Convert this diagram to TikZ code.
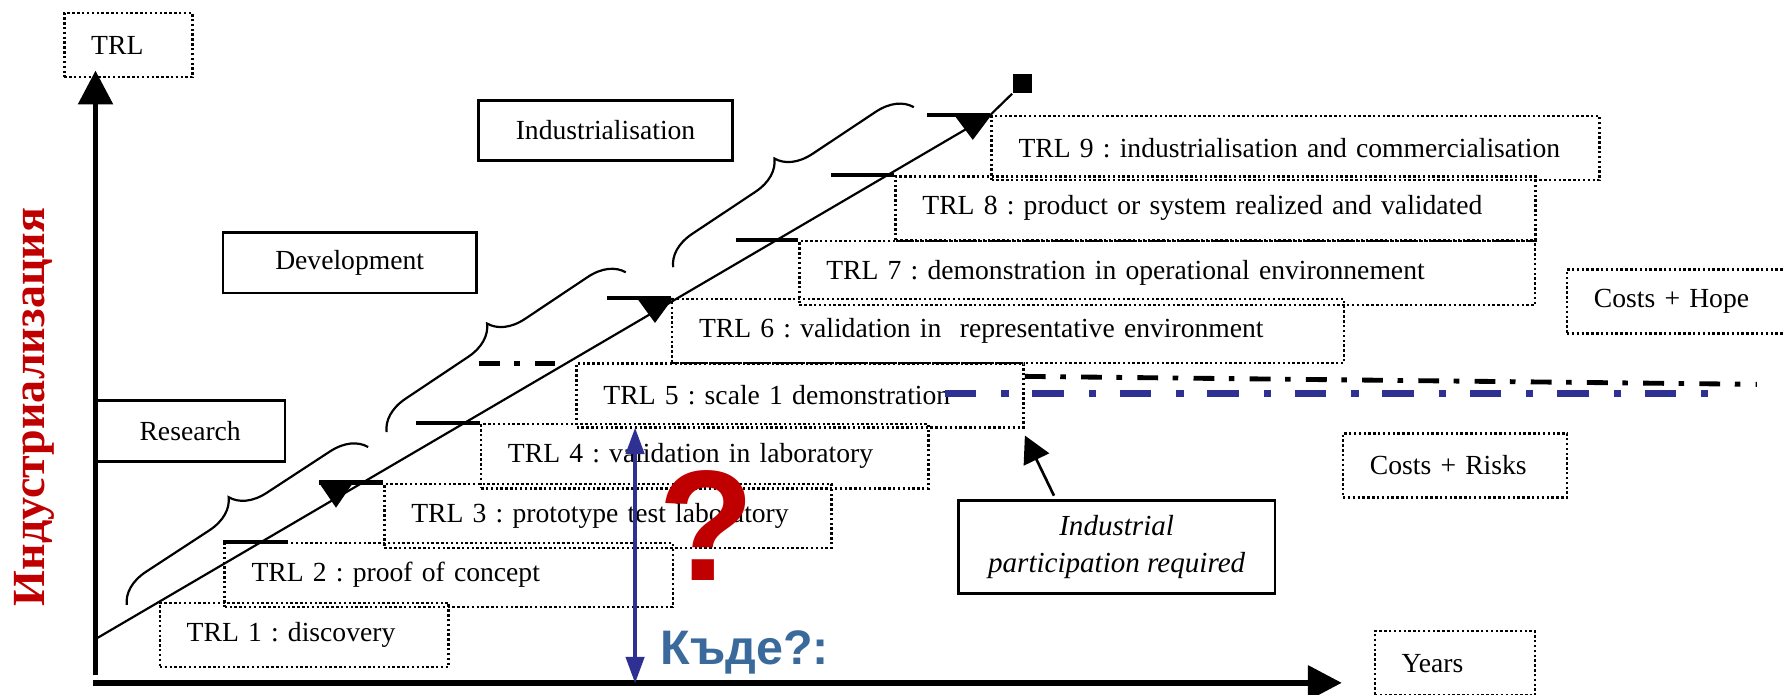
\documentclass[tikz,border=0pt]{standalone}
\usepackage{fontspec}
\setmainfont{Liberation Serif}
\newfontfamily\arialfont{Liberation Sans}
\usetikzlibrary{arrows.meta,calc,decorations.pathreplacing}
\frenchspacing

\definecolor{trlred}{RGB}{192,0,0}
\definecolor{trlnavy}{RGB}{46,49,146}
\definecolor{trlsteel}{RGB}{58,106,156}

\tikzstyle{stagebox} = [draw, line width=1pt, dash pattern=on 1pt off 1pt,
    anchor=north west, inner xsep=0.39cm, inner ysep=0pt, minimum height=0.93cm, align=left]
\tikzstyle{phasebox} = [draw, line width=1pt, inner sep=0pt, minimum height=0.88cm]
\tikzstyle{stepbar} = [line width=1.9pt]
\tikzstyle{axisline} = [line width=2.4pt, -{Triangle[length=14pt,width=14pt]}]
\tikzstyle{curly} = [line width=0.9pt, decorate, decoration={brace, amplitude=0.5cm}]
\tikzstyle{hopeline} = [line width=2pt, dash pattern=on 8.6pt off 6pt on 2.3pt off 6.3pt]
\tikzstyle{riskline} = [trlnavy, line width=3pt, dash pattern=on 13pt off 10.3pt on 3pt off 9.8pt]
\tikzstyle{pointer} = [line width=1.1pt, -{Triangle[length=11pt,width=11.5pt]}]
\tikzstyle{dualarrow} = [trlnavy, line width=1.7pt, {Triangle[length=11pt,width=7.5pt]}-{Triangle[length=11pt,width=7.5pt]}]

\begin{document}
\begin{tikzpicture}[x=0.0165cm, y=-0.0165cm, font=\fontsize{11.4}{14}\selectfont]
    \useasboundingbox (0,0) rectangle (1568,611);
    % Place nodes
    \node [stagebox, text width=1.080cm] (trl) at (55.5,10.5) {TRL};
    \node [stagebox, text width=3.410cm] (trl1) at (139.5,529) {TRL 1 : discovery};
    \node [stagebox, text width=5.720cm] (trl2) at (196.5,476.5) {TRL 2 : proof of concept};
    \node [stagebox, text width=5.705cm] (trl3) at (337,424.5) {TRL 3 : prototype test laboratory};
    \node [stagebox, text width=5.713cm] (trl4) at (422,372) {TRL 4 : validation in laboratory};
    \node [stagebox, text width=5.705cm] (trl5) at (506,318.5) {TRL 5 : scale 1 demonstration};
    \node [stagebox, text width=8.963cm] (trl6) at (590,262) {TRL 6 : validation in~ representative environment};
    \node [stagebox, text width=9.887cm] (trl7) at (702,211) {TRL 7 : demonstration in operational environnement};
    \node [stagebox, text width=8.501cm] (trl8) at (786.5,154) {TRL 8 : product or system realized and validated};
    \node [stagebox, text width=8.040cm] (trl9) at (871,101) {TRL 9 : industrialisation and commercialisation};
    \node [stagebox, text width=2.850cm] (hope) at (1377,236) {Costs + Hope};
    \node [stagebox, text width=2.471cm] (risk) at (1180,380) {Costs + Risks};
    \node [stagebox, text width=1.546cm] (years) at (1208,554) {Years};
    \node [phasebox, minimum width=3.68cm, minimum height=0.866cm] (indus) at (532.5,114.75) {Industrialisation};
    \node [phasebox, minimum width=3.68cm] (devel) at (307.5,231) {Development};
    \node [phasebox, minimum width=2.747cm] (resea) at (167.25,379) {Research};
    \node [phasebox, minimum width=4.587cm, minimum height=1.353cm, align=center,
        font=\fontsize{12}{15}\selectfont\itshape] (partic) at (982,481) {Industrial\\participation required};
    \node [fill, minimum size=0.28cm, inner sep=0pt] (peak) at (899,73.5) {};
    % Axes
    \coordinate (origin) at (84,594);
    \coordinate (ytip) at (84,62);
    \coordinate (xstart) at (82,600.5);
    \coordinate (xtip) at (1180,600.5);
    \coordinate (base) at (84,562);
    \draw [axisline] (origin) -- (ytip);
    \draw [axisline] (xstart) -- (xtip);
    % Draw the ramp and the steps
    \draw [line width=0.9pt] (base) -- (trl9.north west) -- (peak.south west);
    \draw [stepbar] (trl2.north west) -- ($(trl2.north west)+(57,0)$);
    \draw [stepbar] ($(trl3.north west)+(-56.5,0)$) -- (trl3.north west);
    \draw [stepbar] ($(trl4.north west)+(-56,0)$) -- (trl4.north west);
    \draw [hopeline] ($(trl5.north west)+(-85,1)$) -- ($(trl5.north west)+(-18,1)$);
    \draw [stepbar] ($(trl6.north west)+(-56,0)$) -- (trl6.north west);
    \draw [stepbar] ($(trl7.north west)+(-55,0)$) -- (trl7.north west);
    \draw [stepbar] ($(trl8.north west)+(-55.5,0)$) -- (trl8.north west);
    \draw [stepbar] ($(trl9.north west)+(-56,0)$) -- (trl9.north west);
    \fill ($(trl3.north west)+(-56.5,0)$) -- ++(30,0) -- ++(-15,22) -- cycle;
    \fill ($(trl6.north west)+(-30,0)$) -- ++(32,0) -- ++(-16,22) -- cycle;
    \fill ($(trl9.north west)+(-32,0)$) -- ++(33,0) -- ++(-16.5,22) -- cycle;
    % Braces for the three phases
    \draw [curly] (111.5,532) -- (324,393);
    \draw [curly] (340,380) -- (551,239);
    \draw [curly] (592,235) -- (804,94);
    % Cost lines
    \draw [hopeline] ($(trl5.north east)+(0,12.5)$) -- (1545,338);
    \draw [riskline] (831,346) -- (1510,346);
    % Where?
    \coordinate (gaptop) at (558.5,376);
    \coordinate (gapbot) at (558.5,601);
    \draw [dualarrow] (gapbot) -- (gaptop);
    \draw [pointer] ($(partic.north west)+(85,-3)$) -- ($(trl5.south east)+(0,6)$);
    \node [text=trlred, font=\arialfont\fontsize{65}{65}\selectfont\bfseries] (query) at (621,462) {?};
    \node [text=trlsteel, font=\arialfont\fontsize{20}{20}\selectfont\bfseries] (where) at (655,574) {Къде?:};
    \node [rotate=90, text=trlred, font=\fontsize{19}{19}\selectfont\bfseries] (axistitle) at (30,358) {Индустриализация};
\end{tikzpicture}
\end{document}
